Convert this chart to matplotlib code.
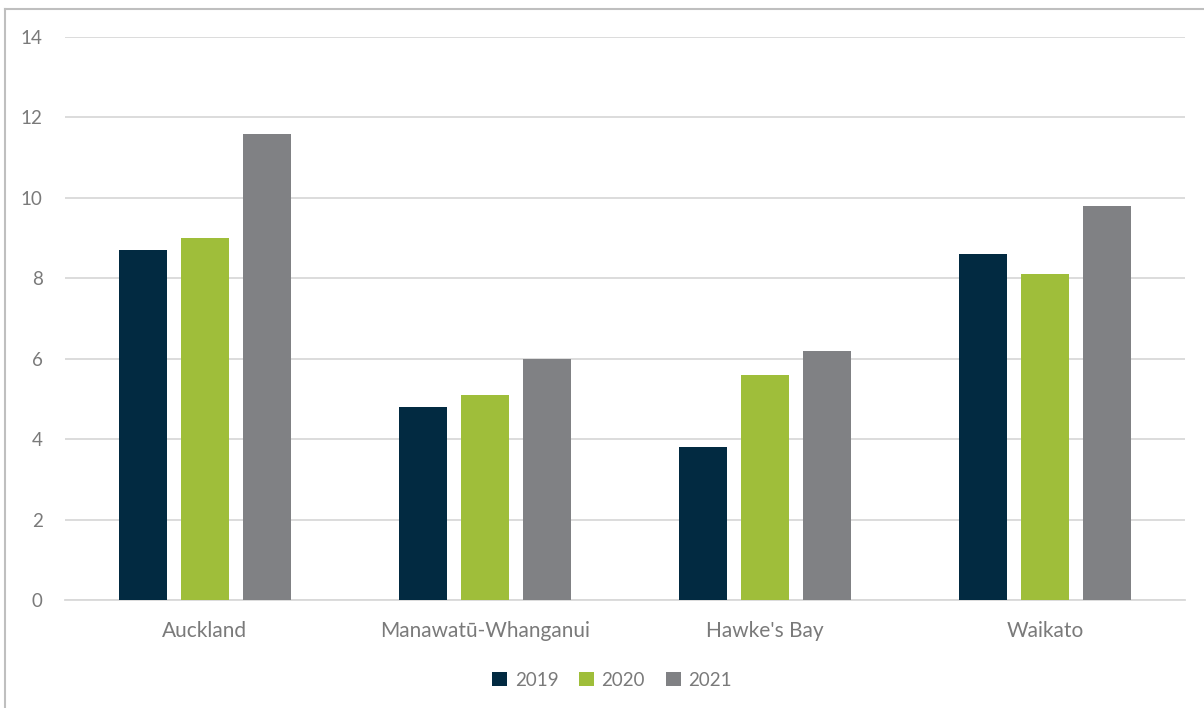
import matplotlib
matplotlib.use("Agg")
import matplotlib.pyplot as plt
import numpy as np
from matplotlib.lines import Line2D
from matplotlib.patches import Patch

categories = ["Auckland", "Manawatū-Whanganui", "Hawke's Bay", "Waikato"]
years = ["2019", "2020", "2021"]
v2019 = [8.7, 4.8, 3.8, 8.6]
v2020 = [9.0, 5.1, 5.6, 8.1]
v2021 = [11.6, 6.0, 6.2, 9.8]
series = [v2019, v2020, v2021]
colors = ["#022a41", "#9fbe3a", "#808184"]
yticks = [0, 2, 4, 6, 8, 10, 12, 14]

plt.rcParams['font.family'] = ['Lato', 'DejaVu Sans']
txt = "#7a7a7a"

W, H = 1204, 708
fig = plt.figure(figsize=(W/100, H/100), dpi=100)
ax = fig.add_axes([65/W, 1-600/H, (1185-65)/W, (600-37)/H])

x = np.arange(len(categories))
bw = 48/280
step = 62/280
for i, (vals, c) in enumerate(zip(series, colors)):
    ax.bar(x + (i-1)*step, vals, width=bw, color=c, label=years[i], zorder=3)

ax.set_xlim(-0.5, 3.5)
ax.set_ylim(0, 14)
ax.set_yticks(yticks)
ax.set_yticklabels([str(t) for t in yticks])
ax.set_xticks(x)
ax.set_xticklabels(categories)
ax.grid(axis='y', color="#d9d9d9", linewidth=1.3, zorder=0)
for s in ['top', 'right', 'left']:
    ax.spines[s].set_visible(False)
ax.spines['bottom'].set_color("#d9d9d9")
ax.spines['bottom'].set_linewidth(1.3)
ax.tick_params(axis='both', length=0, colors=txt)
ax.tick_params(axis='y', pad=16, labelsize=13.5)
ax.tick_params(axis='x', pad=15, labelsize=15)

handles = [Patch(facecolor=c, edgecolor='none') for c in colors]
fig.legend(handles, years, loc='center', bbox_to_anchor=(612/W, 1-680/H), ncol=3,
           frameon=False, fontsize=13.5, labelcolor=txt, handlelength=0.8, handleheight=0.8,
           handletextpad=0.4, columnspacing=1.1)

# outer border (top and left visible)
fig.add_artist(Line2D([5/W, 1], [1-9/H, 1-9/H], color="#bfbfbf", linewidth=1.5))
fig.add_artist(Line2D([5/W, 5/W], [0, 1-9/H], color="#bfbfbf", linewidth=1.5))

fig.savefig("out.png", dpi=100)
